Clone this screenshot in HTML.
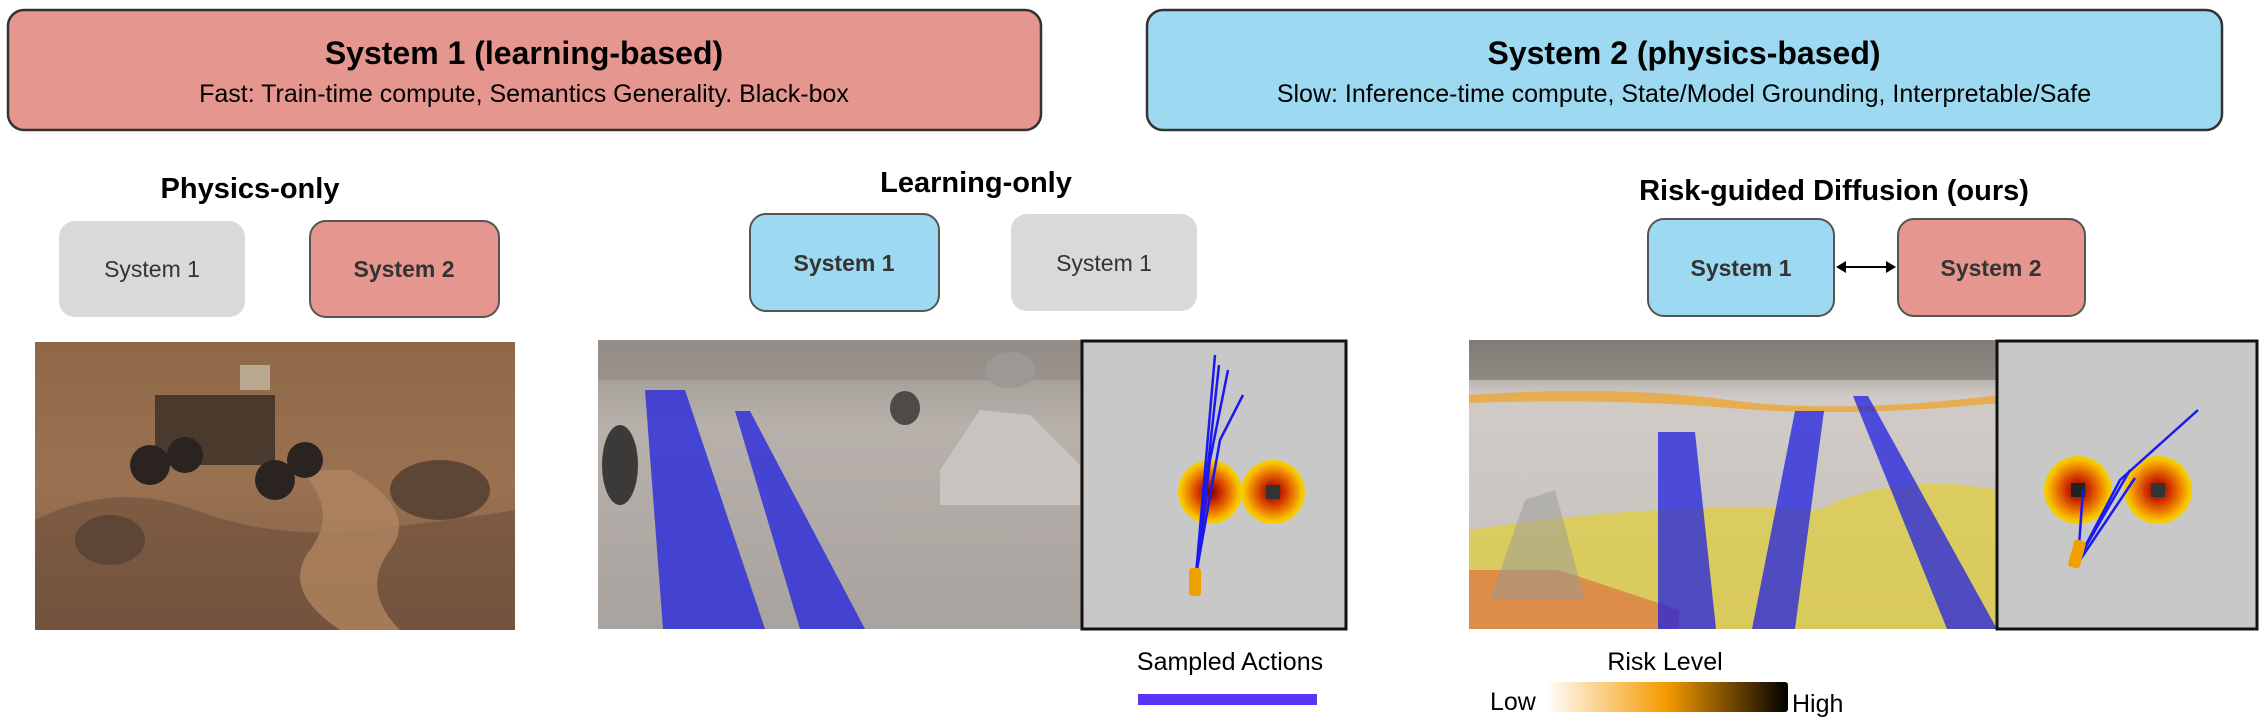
<!DOCTYPE html>
<html><head><meta charset="utf-8"><style>
html,body{margin:0;padding:0;background:#fff;width:2261px;height:723px;overflow:hidden}
svg text{font-family:"Liberation Sans",Arial,sans-serif}
</style></head><body>
<svg width="2261" height="723" viewBox="0 0 2261 723" xmlns="http://www.w3.org/2000/svg">
<defs>
<radialGradient id="blob"><stop offset="0" stop-color="#6b0000"/><stop offset="0.35" stop-color="#d03000"/><stop offset="0.7" stop-color="#f08a00"/><stop offset="0.9" stop-color="#f5c400"/><stop offset="1" stop-color="#f5d000"/></radialGradient>
<linearGradient id="risk" x1="0" x2="1"><stop offset="0" stop-color="#fff"/><stop offset="0.5" stop-color="#f59a00"/><stop offset="1" stop-color="#000"/></linearGradient>
<linearGradient id="mars" x1="0" y1="0" x2="0" y2="1"><stop offset="0" stop-color="#8e6848"/><stop offset="0.5" stop-color="#9a7252"/><stop offset="1" stop-color="#7a5a44"/></linearGradient>
<linearGradient id="ground" x1="0" y1="0" x2="0" y2="1"><stop offset="0" stop-color="#9b9590"/><stop offset="0.3" stop-color="#b7b0ab"/><stop offset="1" stop-color="#a9a39f"/></linearGradient>
<linearGradient id="ground2" x1="0" y1="0" x2="0" y2="1"><stop offset="0" stop-color="#8a8580"/><stop offset="0.2" stop-color="#d0cbc6"/><stop offset="1" stop-color="#c5c0bb"/></linearGradient>
</defs>
<!-- top boxes -->
<rect x="8" y="10" width="1033" height="120" rx="16" fill="#e4968f" stroke="#333" stroke-width="2.5"/>
<text x="524" y="64" font-size="32" font-weight="bold" text-anchor="middle">System 1 (learning-based)</text>
<text x="524" y="102" font-size="25" text-anchor="middle">Fast: Train-time compute, Semantics Generality. Black-box</text>
<rect x="1147" y="10" width="1075" height="120" rx="16" fill="#9dd9f0" stroke="#333" stroke-width="2.5"/>
<text x="1684" y="64" font-size="32" font-weight="bold" text-anchor="middle">System 2 (physics-based)</text>
<text x="1684" y="102" font-size="25" text-anchor="middle">Slow: Inference-time compute, State/Model Grounding, Interpretable/Safe</text>
<!-- section titles -->
<text x="250" y="198" font-size="29" font-weight="bold" text-anchor="middle">Physics-only</text>
<text x="976" y="192" font-size="29" font-weight="bold" text-anchor="middle">Learning-only</text>
<text x="1834" y="200" font-size="29" font-weight="bold" text-anchor="middle">Risk-guided Diffusion (ours)</text>
<!-- physics boxes -->
<rect x="59" y="221" width="186" height="96" rx="16" fill="#d8d9db"/>
<text x="152" y="277" font-size="23" fill="#333" text-anchor="middle">System 1</text>
<rect x="310" y="221" width="189" height="96" rx="16" fill="#e4968f" stroke="#555" stroke-width="2"/>
<text x="404" y="277" font-size="23" font-weight="bold" fill="#333" text-anchor="middle">System 2</text>
<!-- learning boxes -->
<rect x="750" y="214" width="189" height="97" rx="16" fill="#9dd9f0" stroke="#555" stroke-width="2"/>
<text x="844" y="271" font-size="23" font-weight="bold" fill="#333" text-anchor="middle">System 1</text>
<rect x="1011" y="214" width="186" height="97" rx="16" fill="#d8d9db"/>
<text x="1104" y="271" font-size="23" fill="#333" text-anchor="middle">System 1</text>
<!-- ours boxes -->
<rect x="1648" y="219" width="186" height="97" rx="16" fill="#9dd9f0" stroke="#555" stroke-width="2"/>
<text x="1741" y="276" font-size="23" font-weight="bold" fill="#333" text-anchor="middle">System 1</text>
<rect x="1898" y="219" width="187" height="97" rx="16" fill="#e4968f" stroke="#555" stroke-width="2"/>
<text x="1991" y="276" font-size="23" font-weight="bold" fill="#333" text-anchor="middle">System 2</text>
<line x1="1840" y1="267" x2="1892" y2="267" stroke="#000" stroke-width="2"/>
<path d="M1836 267 l10 -6 v12z M1896 267 l-10 -6 v12z" fill="#000"/>
<!-- mars photo -->
<rect x="35" y="342" width="480" height="288" fill="url(#mars)"/>
<path d="M35 520 q80 -40 160 -10 t170 20 t150 -20 v120 h-480z" fill="#6e4e3a" opacity="0.6"/>
<path d="M300 470 q40 40 10 80 t30 80 h60 q-40 -40 -10 -80 t-40 -80z" fill="#b08560" opacity="0.8"/>
<rect x="155" y="395" width="120" height="70" fill="#4a3a2e"/>
<rect x="240" y="365" width="30" height="25" fill="#b8a890"/>
<circle cx="150" cy="465" r="20" fill="#2a2320"/><circle cx="185" cy="455" r="18" fill="#2a2320"/>
<circle cx="275" cy="480" r="20" fill="#2a2320"/><circle cx="305" cy="460" r="18" fill="#2a2320"/>
<ellipse cx="440" cy="490" rx="50" ry="30" fill="#5e4636"/>
<ellipse cx="110" cy="540" rx="35" ry="25" fill="#5e4636"/>
<!-- learning photo -->
<rect x="598" y="340" width="483" height="289" fill="url(#ground)"/>
<rect x="598" y="340" width="483" height="40" fill="#8f8780" opacity="0.6"/>
<path d="M940 470 l40 -60 l50 5 l50 50 v40 h-140z" fill="#c9c4c0"/>
<ellipse cx="905" cy="408" rx="15" ry="17" fill="#4d4a47"/>
<ellipse cx="620" cy="465" rx="18" ry="40" fill="#3c3a38"/>
<ellipse cx="1010" cy="370" rx="25" ry="18" fill="#9c9894"/>
<path d="M645 390 L685 390 L765 629 L663 629 Z" fill="#2020e0" opacity="0.75"/>
<path d="M735 411 L750 411 L865 629 L800 629 Z" fill="#2020e0" opacity="0.75"/>
<!-- learning map -->
<rect x="1082" y="341" width="264" height="288" fill="#c8c8c8" stroke="#111" stroke-width="3"/>
<circle cx="1210" cy="492" r="32" fill="url(#blob)"/>
<circle cx="1273" cy="492" r="32" fill="url(#blob)"/>
<rect x="1266" y="485" width="14" height="14" fill="#333"/>
<g stroke="#1a1af0" stroke-width="2.5" fill="none">
<path d="M1196 575 L1215 355"/><path d="M1196 575 L1219 365"/><path d="M1196 575 L1210 460 L1228 370"/><path d="M1196 575 L1220 440 L1243 395"/><path d="M1196 575 L1206 500"/>
</g>
<rect x="1189" y="568" width="12" height="28" rx="3" fill="#f0a000"/>
<!-- sampled actions -->
<text x="1230" y="670" font-size="25" text-anchor="middle">Sampled Actions</text>
<rect x="1138" y="694" width="179" height="11" fill="#5b35f5"/>
<!-- risk photo -->
<rect x="1469" y="340" width="528" height="289" fill="url(#ground2)"/>
<rect x="1469" y="340" width="528" height="40" fill="#7e7670" opacity="0.7"/>
<path d="M1469 395 q150 -10 260 5 t270 -5 v8 q-150 15 -270 5 t-260 -5z" fill="#f0a020" opacity="0.7"/>
<path d="M1469 530 q200 -30 350 -20 q80 -40 178 -20 v139 h-528z" fill="#e6d020" opacity="0.6"/>
<path d="M1469 570 l90 0 l120 40 v19 h-210z" fill="#e05030" opacity="0.5"/>
<path d="M1490 600 l35 -100 l30 -10 l30 110 z" fill="#999" opacity="0.5"/>
<path d="M1658 432 L1695 432 L1716 629 L1658 629 Z" fill="#2020e0" opacity="0.75"/>
<path d="M1795 411 L1824 411 L1795 629 L1752 629 Z" fill="#2020e0" opacity="0.75"/>
<path d="M1853 396 L1868 396 L1997 629 L1947 629 Z" fill="#2020e0" opacity="0.75"/>
<!-- risk map -->
<rect x="1997" y="341" width="260" height="288" fill="#c8c8c8" stroke="#111" stroke-width="3"/>
<circle cx="2078" cy="490" r="34" fill="url(#blob)"/>
<circle cx="2158" cy="490" r="34" fill="url(#blob)"/>
<rect x="2071" y="483" width="14" height="14" fill="#222"/>
<rect x="2151" y="483" width="14" height="14" fill="#333"/>
<g stroke="#1a1af0" stroke-width="2.5" fill="none">
<path d="M2078 560 L2083 490"/><path d="M2078 560 L2130 470"/><path d="M2078 560 L2120 480 L2198 410"/><path d="M2080 560 L2135 478"/>
</g>
<rect x="2071" y="540" width="12" height="28" rx="3" fill="#f0a000" transform="rotate(15 2077 554)"/>
<!-- risk legend -->
<text x="1665" y="670" font-size="25" text-anchor="middle">Risk Level</text>
<text x="1490" y="710" font-size="25">Low</text>
<rect x="1545" y="682" width="243" height="30" rx="3" fill="url(#risk)"/>
<text x="1792" y="712" font-size="25">High</text>
</svg>
</body></html>
